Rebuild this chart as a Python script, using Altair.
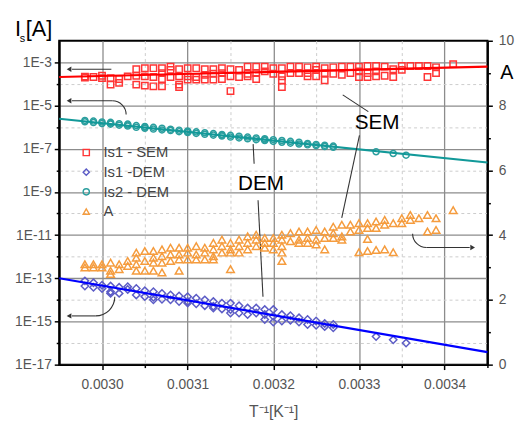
import altair as alt
import pandas as pd

# ---------------- data ----------------
# measurement columns of 1/T  [K^-1]
inv_T = [0.00298, 0.00299, 0.00300, 0.00301, 0.00302, 0.00303, 0.00304, 0.00305,
         0.00306, 0.00307, 0.00308, 0.00309, 0.00310, 0.00311, 0.00312, 0.00313,
         0.00314, 0.00315, 0.00316, 0.00317, 0.00318, 0.00319, 0.00320, 0.00321,
         0.00322, 0.00323, 0.00324, 0.00325, 0.00326, 0.00327, 0.00328, 0.00329,
         0.00330, 0.00331, 0.00332, 0.00333, 0.00334, 0.00335, 0.00336, 0.00337,
         0.00338, 0.00339]

# Is1 - SEM : log10(Is [A]) per column
sem_x = inv_T + [0.00341]
sem_exp = [[-3.66, -3.70], [-3.68], [-3.62, -3.73], [-3.73, -4.03], [-3.77, -3.95],
           [-3.65], [-3.32, -3.62, -4.03], [-3.27, -3.65, -4.08], [-3.27, -3.68, -4.11],
           [-3.27, -3.50, -3.77, -4.11], [-3.20, -3.35, -3.68], [-3.32, -3.65, -4.03, -4.14],
           [-3.27, -3.65, -3.80], [-3.27, -3.68, -3.80], [-3.32, -3.58, -3.80],
           [-3.32, -3.53, -3.80], [-3.27, -3.50, -3.77], [-3.32, -3.65, -4.33],
           [-3.35, -3.68], [-3.20, -3.53, -3.65], [-3.20, -3.50, -3.77], [-3.20, -3.42],
           [-3.27, -3.53], [-3.27, -3.65, -3.83, -4.14], [-3.20, -3.50], [-3.20, -3.50],
           [-3.23, -3.50, -3.65], [-3.20, -3.35, -3.65], [-3.27, -3.50, -3.83],
           [-3.23, -3.53], [-3.20, -3.58], [-3.20, -3.50], [-3.20, -3.42, -3.68],
           [-3.17, -3.50, -3.68], [-3.17, -3.42, -3.65], [-3.20, -3.62], [-3.32, -3.68],
           [-3.17, -3.35], [-3.17], [-3.17], [-3.17, -3.68], [-3.23, -3.50], [-3.08]]

# DEM columns
dem_x = inv_T[:30] + [0.00332, 0.00334, 0.003355]
# Is2 - DEM : log10(Is [A])
dem2_exp = [[-5.69, -5.75], [-5.72, -5.79], [-5.76, -5.83], [-5.78, -5.86, -5.82],
            [-5.84, -5.91], [-5.86, -5.95, -5.90], [-5.93, -6.01], [-5.97, -6.05, -6.00],
            [-6.01, -6.09], [-6.05, -6.13], [-6.10, -6.16], [-6.14, -6.21],
            [-6.18, -6.25, -6.21], [-6.22, -6.29], [-6.26, -6.33], [-6.30, -6.37],
            [-6.34, -6.41, -6.38], [-6.38, -6.46], [-6.42, -6.50], [-6.46, -6.54],
            [-6.50, -6.58], [-6.54, -6.62, -6.59], [-6.58, -6.66], [-6.62, -6.70],
            [-6.66, -6.74], [-6.70, -6.78], [-6.76, -6.82], [-6.80, -6.86], [-6.84, -6.90],
            [-6.88, -6.93], [-7.14], [-7.22], [-7.30]]
# Is1 - DEM : log10(Is [A])
dem1_exp = [[-13.12, -13.36], [-13.21, -13.42], [-13.32, -13.47], [-13.36, -13.62, -13.70],
            [-13.42, -13.70], [-13.39, -13.52], [-13.47, -13.77], [-13.58, -13.85],
            [-13.62, -13.88, -14.00], [-13.70, -13.97], [-13.77, -14.00], [-13.82, -14.08],
            [-13.85, -14.08, -14.15], [-13.92, -14.18], [-14.00, -14.27],
            [-14.08, -14.30, -14.38], [-14.15, -14.42], [-14.15, -14.45, -14.61],
            [-14.27, -14.61], [-14.38, -14.68], [-14.38, -14.61], [-14.45, -14.68, -14.91],
            [-14.45, -14.76, -15.03], [-14.68, -14.98], [-14.73, -14.94], [-14.83, -15.03],
            [-14.91, -15.14], [-14.98, -15.18], [-15.09, -15.24], [-15.14, -15.29],
            [-15.70], [-15.85], [-16.00]]

# A (right axis)
a_x = inv_T + [0.00341]
a_vals = [[3.00, 3.10], [3.10, 3.00], [3.10, 3.00], [3.15, 2.90, 2.80], [3.10, 2.95],
          [3.20, 3.05], [3.46, 3.30, 3.10, 2.90], [3.51, 3.20, 2.90], [3.51, 3.30, 3.15, 2.90],
          [3.56, 3.35, 3.15, 2.85], [3.61, 3.40, 3.20], [3.61, 3.40, 3.25, 2.90],
          [3.61, 3.46, 3.25], [3.66, 3.40, 3.25], [3.61, 3.46, 3.25], [3.76, 3.56, 3.35, 3.25],
          [3.86, 3.66, 3.46], [3.76, 3.56, 3.46, 2.95], [3.86, 3.66, 3.46], [3.96, 3.76, 3.56],
          [4.01, 3.86, 3.66], [3.91, 3.76, 3.61], [3.91, 3.76, 3.56],
          [4.01, 3.86, 3.66, 3.46, 3.20], [4.06, 3.81], [4.11, 3.86, 3.76], [4.11, 3.91, 3.76],
          [4.16, 3.86, 3.71], [4.11, 3.91, 3.56], [4.26, 4.06, 3.91], [4.32, 3.96, 3.86],
          [4.32, 4.11], [4.37, 4.16, 3.47], [4.37, 4.22, 3.88, 3.51], [4.42, 4.22, 3.54],
          [4.47, 4.32, 3.56], [4.37, 3.47], [4.52, 4.37], [4.62, 4.47], [4.52], [4.62, 4.11],
          [4.52, 4.16], [4.77]]

# fitted lines (log10 Is at the two ends of the x range)
fit_x = [0.00295, 0.00345]
sem_fit_exp = [-3.68, -3.20]
dem2_fit_exp = [-5.61, -7.64]
dem1_fit_exp = [-13.00, -16.42]

series_names = ["Is1 - SEM", "Is1 -DEM", "Is2 - DEM", "A"]

x_ticks = [0.0030, 0.00305, 0.0031, 0.00315, 0.0032, 0.00325, 0.0033, 0.00335, 0.0034, 0.00345]
y_ticks = [1e-17, 1e-16, 1e-15, 1e-14, 1e-13, 1e-12, 1e-11, 1e-10, 1e-9, 1e-8,
           1e-7, 1e-6, 1e-5, 1e-4, 1e-3]
r_ticks = [0, 1, 2, 3, 4, 5, 6, 7, 8, 9, 10]

# ---------------- styling ----------------
FONT = "Liberation Sans"
series_colors = ["#FF3535", "#5C5CC6", "#2A9E9E", "#F59C3E"]
series_shapes = ["square", "diamond", "circle", "triangle-up"]
ANNO = "#333333"


def long_table(xs, groups, name, log=True):
    rows = []
    for x, ys in zip(xs, groups):
        for v in ys:
            rows.append({"x": x, "y": 10 ** v if log else v, "series": name})
    return pd.DataFrame(rows)


def fit_table(exps):
    return pd.DataFrame({"x": fit_x, "y": [10 ** e for e in exps]})


sem_df = long_table(sem_x, sem_exp, series_names[0])
dem1_df = long_table(dem_x, dem1_exp, series_names[1])
dem2_df = long_table(dem_x, dem2_exp, series_names[2])
a_df = long_table(a_x, a_vals, series_names[3], log=False)

x_minor = "round(datum.value*20000) % 2 == 1"
y_minor = "round(log(datum.value)/LN10) % 2 == 0"
r_minor = "datum.value % 2 == 1"

x_axis = alt.Axis(
    values=x_ticks, title="T⁻¹[K⁻¹]", titleFont=FONT, titleFontSize=16,
    titleFontWeight="normal", titleColor="#555555", titlePadding=13,
    labelExpr=f"{x_minor} ? '' : format(datum.value, '.4f')",
    labelPadding=8, labelFlush=False, labelOverlap=False,
    grid=True,
    gridColor={"condition": {"test": x_minor, "value": "#cccccc"}, "value": "#8c8c8c"},
    gridDash={"condition": {"test": x_minor, "value": [3, 3]}, "value": []},
    gridWidth={"condition": {"test": x_minor, "value": 1}, "value": 1.3},
    tickSize={"condition": {"test": x_minor, "value": 3}, "value": 5},
)
yl_axis = alt.Axis(
    values=y_ticks, title=None, orient="left",
    labelExpr=f"{y_minor} ? '' : '1E' + round(log(datum.value)/LN10)",
    labelPadding=3, labelFlush=False, labelOverlap=False,
    grid=True,
    gridColor={"condition": {"test": y_minor, "value": "#cccccc"}, "value": "#8c8c8c"},
    gridDash={"condition": {"test": y_minor, "value": [3, 3]}, "value": []},
    gridWidth={"condition": {"test": y_minor, "value": 1}, "value": 1.3},
    tickSize={"condition": {"test": y_minor, "value": 3}, "value": 5},
)
yr_axis = alt.Axis(
    values=r_ticks, title=None, orient="right", grid=False,
    labelExpr=f"{r_minor} ? '' : datum.label",
    labelPadding=6, labelFlush=False, labelOverlap=False,
    tickSize={"condition": {"test": r_minor, "value": 3}, "value": 5},
)

x_scale = alt.Scale(domain=[0.00295, 0.00345], nice=False, zero=False)
yl_scale = alt.Scale(type="log", domain=[1e-17, 1e-2], nice=False)
yr_scale = alt.Scale(domain=[0, 10], nice=False, zero=False)

legend = alt.Legend(
    orient="none", legendX=20, legendY=106, title=None,
    labelFont=FONT, labelFontSize=15, labelColor="#444444",
    symbolSize=40, symbolStrokeWidth=1.4, rowPadding=4, labelOffset=10,
    symbolFillColor="transparent",
)
color_enc = alt.Color("series:N", scale=alt.Scale(domain=series_names, range=series_colors),
                      legend=legend, sort=series_names)
shape_enc = alt.Shape("series:N", scale=alt.Scale(domain=series_names, range=series_shapes),
                      legend=legend, sort=series_names)

X = alt.X("x:Q", scale=x_scale, axis=x_axis)
YL = alt.Y("y:Q", scale=yl_scale, axis=yl_axis)
YR = alt.Y("y:Q", scale=yr_scale, axis=yr_axis)


def pts(df, size):
    return alt.Chart(df).mark_point(filled=False, size=size, strokeWidth=1.5, opacity=1).encode(
        x=X, y=YL, color=color_enc, shape=shape_enc)


def fit_line(exps, color):
    return alt.Chart(fit_table(exps)).mark_line(color=color, strokeWidth=2.2).encode(x=X, y=YL)


anno_src = pd.DataFrame({"k": [0]})


def seg(x1, y1, x2, y2, w=1.1):
    return alt.Chart(anno_src).mark_rule(color=ANNO, strokeWidth=w).encode(
        x=alt.value(x1), y=alt.value(y1), x2=alt.value(x2), y2=alt.value(y2))


def arc(cx, cy, r, t1, t2):
    return alt.Chart(anno_src).mark_arc(radius=r + 0.55, radius2=r - 0.55, theta=t1, theta2=t2,
                                        color=ANNO).encode(x=alt.value(cx), y=alt.value(cy))


def head(x, y, shape):
    return alt.Chart(anno_src).mark_point(shape=shape, filled=True, size=30, color=ANNO,
                                          opacity=1).encode(x=alt.value(x), y=alt.value(y))


def label(x, y, text, size, align="center", baseline="middle", color="black"):
    return alt.Chart(anno_src).mark_text(text=text, fontSize=size, font=FONT, align=align,
                                         baseline=baseline, color=color).encode(
        x=alt.value(x), y=alt.value(y))


PI = 3.14159265
annotations = [
    # arrow from SEM data to left axis
    seg(13, 29, 53, 29), head(10, 29, "triangle-left"),
    # curved arrow from Is2-DEM to left axis
    arc(54, 75, 14, 0, PI / 2), seg(13, 61, 54, 61), head(10, 61, "triangle-left"),
    # curved arrow from Is1-DEM to left axis
    arc(37, 260, 19.5, PI / 2, PI), seg(13, 279.5, 37, 279.5), head(10, 279.5, "triangle-left"),
    # curved arrow from A to right axis
    arc(373, 196, 14, PI, 3 * PI / 2), seg(373, 210, 417, 210), head(420, 210, "triangle-right"),
    # SEM / DEM labels and leaders
    label(323, 84, "SEM", 21), seg(288, 55, 314, 72), seg(305, 96, 287, 180),
    label(205, 146, "DEM", 21), seg(197, 105, 198, 125), seg(202, 162, 207, 260),
    # axis titles
    label(-45, -5, "I", 22, align="left", baseline="alphabetic"),
    label(-40, 1, "s", 11, align="left", baseline="alphabetic"),
    label(-34, -5, "[A]", 22, align="left", baseline="alphabetic"),
    label(448, 39, "A", 20, align="left", baseline="alphabetic"),
]

left = alt.layer(
    pts(dem2_df, 38), pts(dem1_df, 56), pts(sem_df, 42),
    fit_line(dem2_fit_exp, "#129999"), fit_line(dem1_fit_exp, "#0000FF"),
    fit_line(sem_fit_exp, "#FF0000"),
    *annotations,
)
right = alt.Chart(a_df).mark_point(filled=False, size=60, strokeWidth=1.5, opacity=1).encode(
    x=X, y=YR, color=color_enc, shape=shape_enc)

chart = alt.layer(left, right).resolve_scale(y="independent").properties(
    width=435, height=329,
    autosize=alt.AutoSizeParams(type="none"),
    padding={"left": 52, "top": 30, "right": 28, "bottom": 56},
    background="white",
).configure_view(stroke="black", strokeWidth=2).configure_axis(
    domainColor="black", domainWidth=2, tickColor="black", tickWidth=1.5,
    labelFont=FONT, labelFontSize=14, labelColor="#555555",
)

chart.save("out.html", embed_options={"renderer": "svg", "actions": False})
